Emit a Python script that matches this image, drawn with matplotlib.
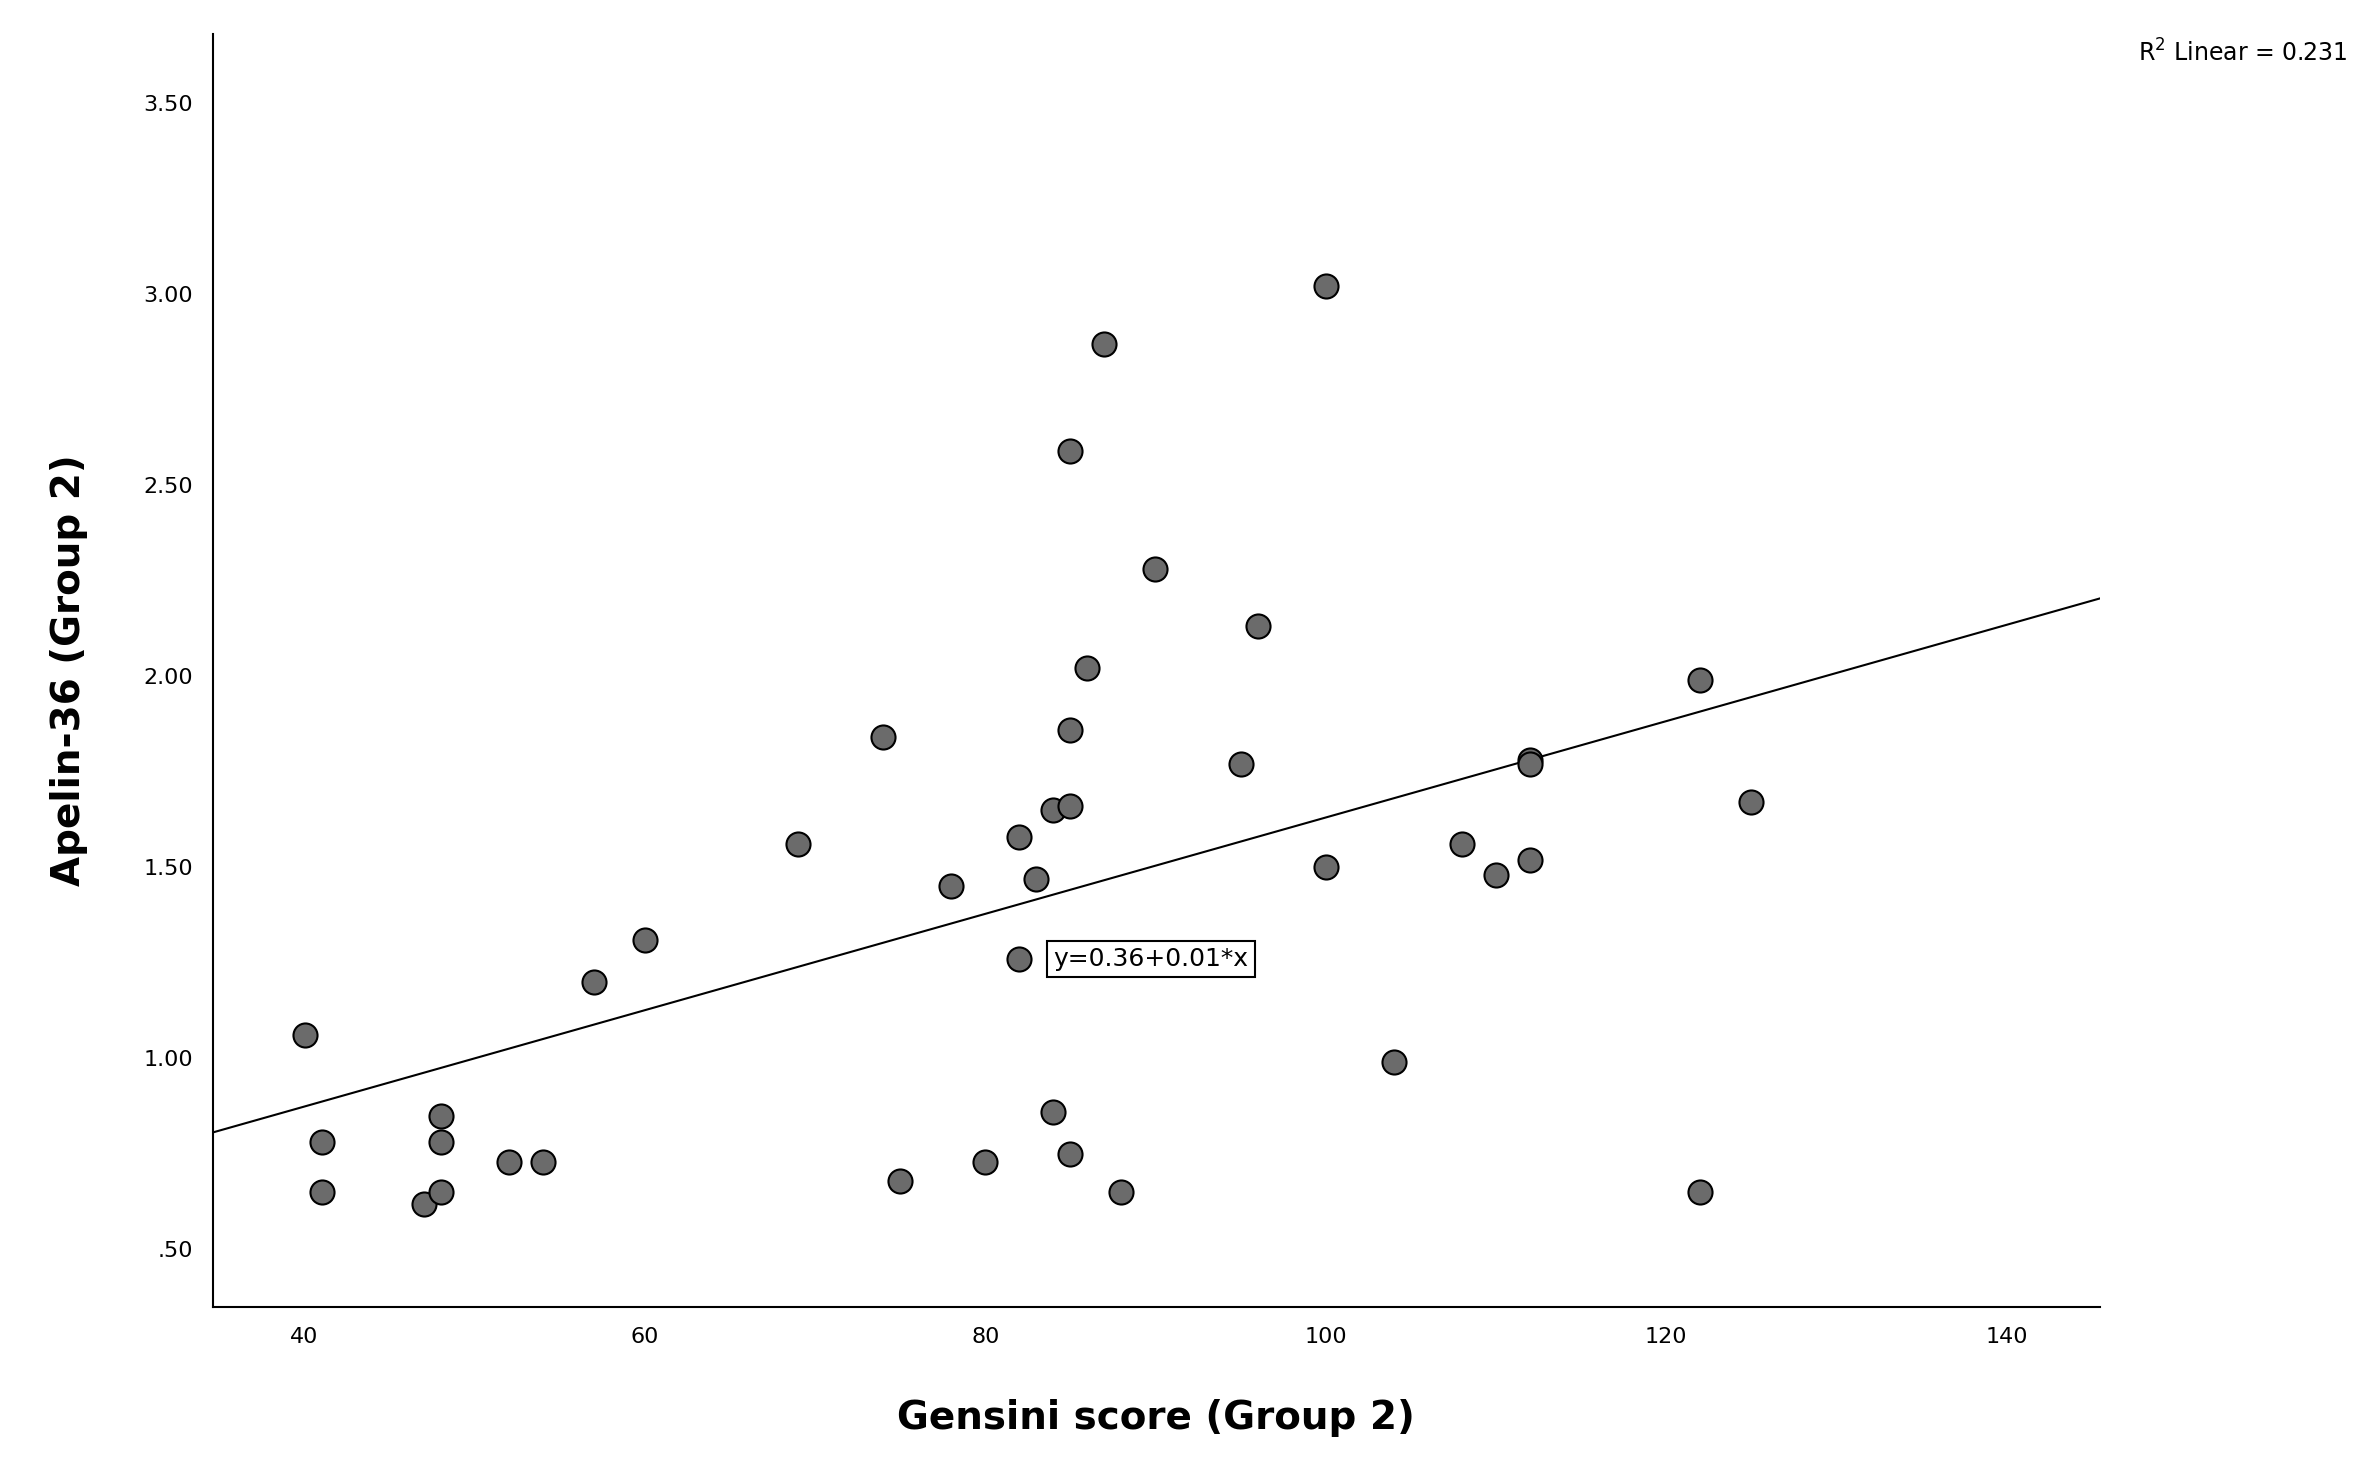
import numpy as np
import matplotlib.pyplot as plt

gensini = [40, 41, 41, 47, 48, 48, 48, 52, 54, 57, 60, 69, 74, 75, 78, 80, 82, 82, 83, 84,
           84, 85, 85, 85, 85, 86, 87, 88, 90, 95, 96, 100, 100, 104, 108, 110, 112, 112, 112,
           122, 122, 125]
apelin = [1.06, 0.78, 0.65, 0.62, 0.85, 0.78, 0.65, 0.73, 0.73, 1.20, 1.31, 1.56, 1.84, 0.68,
          1.45, 0.73, 1.58, 1.26, 1.47, 1.65, 0.86, 2.59, 1.86, 1.66, 0.75, 2.02, 2.87, 0.65,
          2.28, 1.77, 2.13, 3.02, 1.50, 0.99, 1.56, 1.48, 1.78, 1.77, 1.52, 1.99, 0.65, 1.67]
fit_intercept = 0.37
fit_slope = 0.0126

fig = plt.figure(figsize=(23.71, 14.77), dpi=100)
ax = fig.add_axes([0.0897, 0.115, 0.796, 0.862])
ax.scatter(gensini, apelin, s=300, color='#6b6b6b', edgecolors='black', linewidths=1.5, zorder=3)

xlim = (34.6, 145.5)
xs = np.array(xlim)
ax.plot(xs, fit_intercept + fit_slope * xs, color='black', lw=1.5)
ax.set_xlim(*xlim)
ax.set_ylim(0.349, 3.68)

ax.set_xticks([40, 60, 80, 100, 120, 140])
yt = [0.5, 1.0, 1.5, 2.0, 2.5, 3.0, 3.5]
ax.set_yticks(yt)
ax.set_yticklabels(['.50', '1.00', '1.50', '2.00', '2.50', '3.00', '3.50'])
ax.tick_params(labelsize=16, length=0, pad=14)
for s in ['top', 'right']:
    ax.spines[s].set_visible(False)
for s in ['left', 'bottom']:
    ax.spines[s].set_linewidth(1.5)

ax.set_xlabel('Gensini score (Group 2)', fontsize=28, fontweight='bold', labelpad=38)
ax.set_ylabel('Apelin-36 (Group 2)', fontsize=28, fontweight='bold', labelpad=40)

ax.text(84, 1.26, 'y=0.36+0.01*x', fontsize=18, va='center', ha='left',
        bbox=dict(boxstyle='square,pad=0.25', fc='white', ec='black', lw=1.5), zorder=4)
fig.text(0.99, 0.955, r'R$^2$ Linear = 0.231', fontsize=17, ha='right', va='bottom')

fig.savefig('out.png', dpi=100)
